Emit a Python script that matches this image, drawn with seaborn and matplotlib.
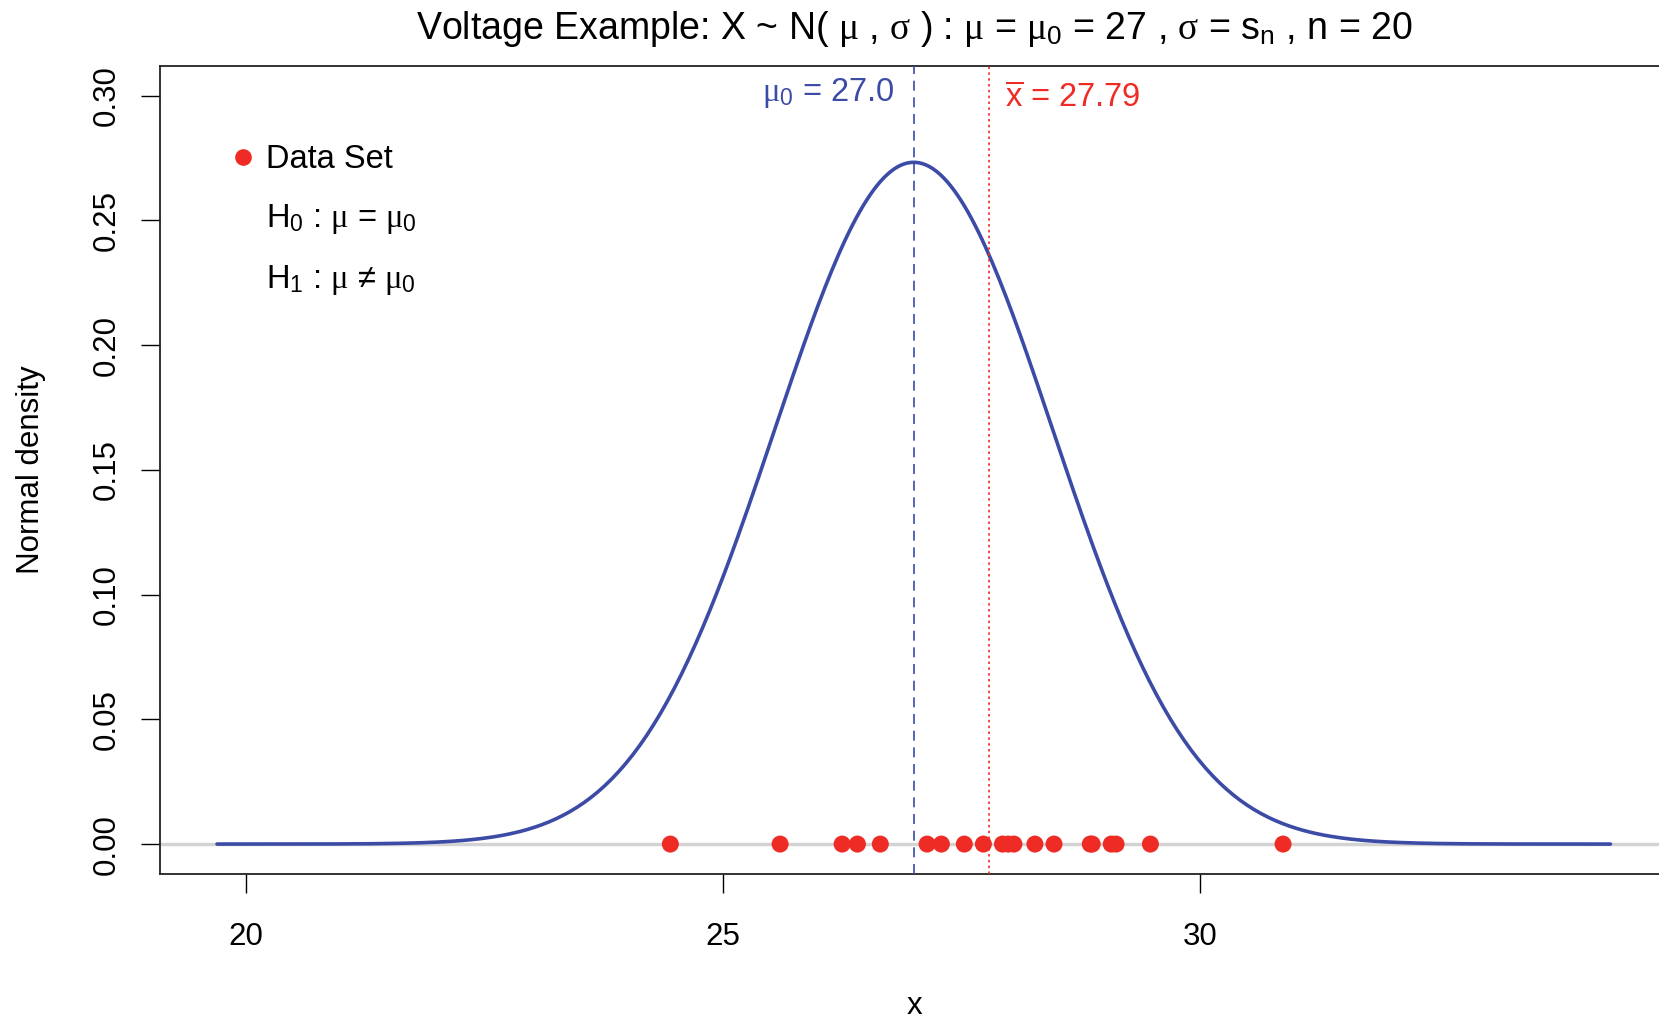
import numpy as np
import pandas as pd
import seaborn as sns
import matplotlib.pyplot as plt
from matplotlib.lines import Line2D

# values
mu0 = 27.0
sigma_n = 1.46
xbar = 27.79
voltages = [24.45, 25.60, 26.25, 26.41, 26.65, 27.14, 27.29, 27.53, 27.73, 27.93,
            27.99, 28.05, 28.27, 28.47, 28.85, 28.87, 29.07, 29.12, 29.48, 30.87]
x_ticks = [20, 25, 30]
y_ticks = [0.00, 0.05, 0.10, 0.15, 0.20, 0.25, 0.30]

blue = '#3B4BA6'
red = '#EE2B25'

sns.set_style('white')
plt.rcParams['font.family'] = ['Liberation Sans', 'DejaVu Sans']
plt.rcParams['mathtext.fontset'] = 'custom'
plt.rcParams['mathtext.rm'] = 'Liberation Sans'
plt.rcParams['mathtext.it'] = 'Liberation Serif'
plt.rcParams['mathtext.default'] = 'it'
plt.rcParams['text.color'] = 'black'
plt.rcParams['axes.labelcolor'] = 'black'
plt.rcParams['xtick.color'] = 'black'
plt.rcParams['ytick.color'] = 'black'

# normal density curve N(mu0, sigma_n) over mu0 +/- 5 sigma
xs = np.linspace(mu0 - 5 * sigma_n, mu0 + 5 * sigma_n, 400)
curve = pd.DataFrame({'x': xs,
                      'density': np.exp(-0.5 * ((xs - mu0) / sigma_n) ** 2) / (sigma_n * np.sqrt(2 * np.pi))})
pts = pd.DataFrame({'x': voltages, 'y': 0.0})

fig = plt.figure(figsize=(16.59, 10.22), dpi=100)
ax = fig.add_axes([0.0963, 0.1448, 0.9095, 0.791])

ax.axhline(0, color='#D3D3D3', lw=2.5, zorder=1)
sns.lineplot(data=curve, x='x', y='density', color=blue, lw=2.6, ax=ax, zorder=2)
ax.axvline(mu0, color=blue, lw=1.2, ls=(0, (6, 4)), zorder=3)
ax.axvline(xbar, color=red, lw=1.2, ls=(0, (1.5, 2)), zorder=3)
sns.scatterplot(data=pts, x='x', y='y', color=red, s=150, edgecolor='none', ax=ax, zorder=4)

ax.set_xlim(19.10, 34.91)
ax.set_ylim(-0.012, 0.312)
ax.set_xticks(x_ticks)
ax.set_xticklabels([str(t) for t in x_ticks])
ax.set_yticks(y_ticks)
ax.set_yticklabels([f'{t:.2f}' for t in y_ticks], rotation=90, va='center')
ax.tick_params(axis='both', direction='out', length=13.5, width=1, color='black',
               labelsize=22.5, bottom=True, left=True)
ax.tick_params(axis='x', pad=21)
ax.tick_params(axis='y', pad=14)
for s in ax.spines.values():
    s.set_color('#222222')
    s.set_linewidth(1.3)

ax.set_xlabel('x', fontsize=22.5)
ax.set_ylabel('Normal density', fontsize=22.5)
ax.xaxis.set_label_coords(0.5, -0.145)
ax.yaxis.set_label_coords(-0.0755, 0.5)

ax.set_title(r'Voltage Example: X ~ N( $\mu$ , $\sigma$ ) : $\mu$ = $\mu_0$ = 27 , $\sigma$ = $\mathrm{s}_\mathrm{n}$ , n = 20',
             fontsize=27, pad=19)

ax.text(mu0 - 0.2, 0.301, r'$\mu_0$ = 27.0', color=blue, fontsize=23.5, ha='right', va='center')
ax.text(xbar + 0.17, 0.299, r'$\overline{\mathrm{x}}$ = 27.79', color=red, fontsize=23.5, ha='left', va='center')

handles = [Line2D([], [], marker='o', ls='none', markerfacecolor=red, markeredgecolor='none', markersize=12),
           Line2D([], [], color='none'),
           Line2D([], [], color='none')]
labels = ['Data Set', r'H$_0$ : $\mu$ = $\mu_0$', r'H$_1$ : $\mu$ ≠ $\mu_0$']
ax.legend(handles, labels, loc='upper left', bbox_to_anchor=(0.037, 0.923), frameon=False,
          fontsize=23.5, handlelength=0.7, handletextpad=0.35, labelspacing=0.82, borderpad=0)

fig.savefig('out.png', dpi=100)
